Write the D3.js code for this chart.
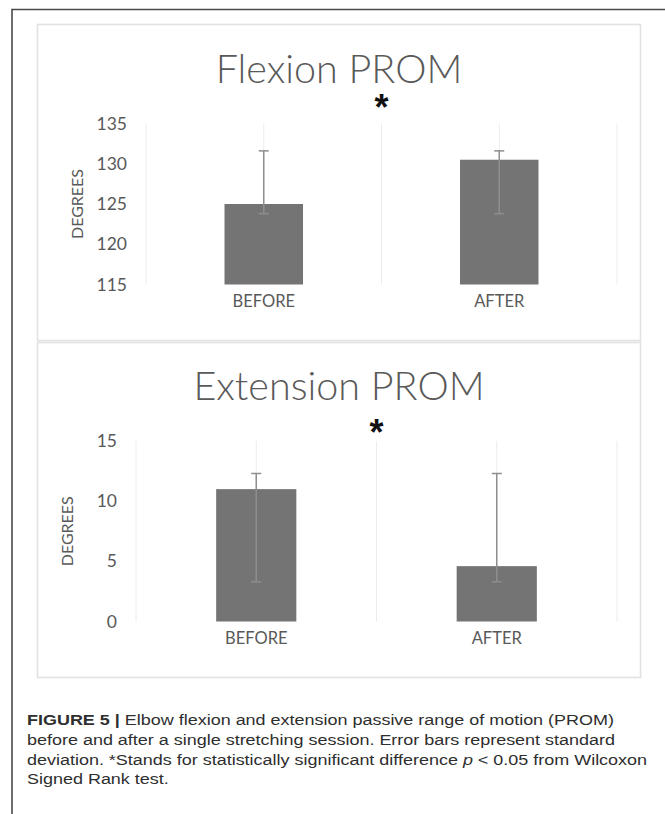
<!DOCTYPE html>
<html>
<head>
<meta charset="utf-8">
<script src="https://cdn.jsdelivr.net/npm/d3@7/dist/d3.min.js"></script>
<style>
  html, body { margin: 0; padding: 0; background: #ffffff; }
  svg { display: block; }
</style>
</head>
<body>
<svg id="fig" width="665" height="814"></svg>
<script>
// ---- data ----
const categories = ["BEFORE", "AFTER"];

const flexionMeans = [125.0, 130.5];
const flexionErrPlus = [6.6, 1.1];
const flexionErrMinus = [1.2, 6.7];
const flexionTicks = [115, 120, 125, 130, 135];

const extensionMeans = [11.0, 4.6];
const extensionErrPlus = [1.3, 7.7];
const extensionErrMinus = [7.7, 1.3];
const extensionTicks = [0, 5, 10, 15];

const panelTitles = ["Flexion PROM", "Extension PROM"];
const axisTitle = "DEGREES";
const significanceMark = "*";

// ---- drawing ----
const svg = d3.select("#fig");
const textGrey = "#595959";
const barFill = "#747474";
const errColor = "#8e8e8e";
const gridColor = "#ececec";
const chartFont = "Lato, 'Open Sans', sans-serif";

// outer figure frame (top and left rules)
svg.append("path")
  .attr("d", "M12,814 L12,9.5 L665,9.5")
  .attr("fill", "none")
  .attr("stroke", "#4a4a4a")
  .attr("stroke-width", 1.6);

// chart panel boxes
svg.append("rect").attr("x", 37.5).attr("y", 24.5).attr("width", 603).attr("height", 316)
  .attr("fill", "#fff").attr("stroke", "#e2e2e2").attr("stroke-width", 1.6);
svg.append("rect").attr("x", 37.5).attr("y", 342.5).attr("width", 603).attr("height", 335)
  .attr("fill", "#fff").attr("stroke", "#e2e2e2").attr("stroke-width", 1.6);

function drawPanel(cfg) {
  const g = svg.append("g");

  const x = d3.scaleBand()
    .domain(categories)
    .range([cfg.left, cfg.right])
    .paddingInner(2 / 3)
    .paddingOuter(1 / 3);
  const step = x.step();

  const y = d3.scaleLinear()
    .domain(cfg.domain)
    .range([cfg.bottom, cfg.top]);

  // vertical gridlines at category edges and centres
  const gridXs = [];
  categories.forEach((c, i) => {
    const start = cfg.left + i * step;
    gridXs.push(start, start + step / 2);
  });
  gridXs.push(cfg.right);
  g.selectAll("line.grid").data(gridXs).enter().append("line")
    .attr("x1", d => d).attr("x2", d => d)
    .attr("y1", y(cfg.domain[1])).attr("y2", y(cfg.domain[0]))
    .attr("stroke", gridColor).attr("stroke-width", 1);

  // y axis tick labels
  const yAxis = d3.axisLeft(y).tickValues(cfg.ticks).tickSize(0).tickPadding(19);
  const ya = g.append("g").attr("transform", `translate(${cfg.left},0)`).call(yAxis);
  ya.select(".domain").remove();
  ya.selectAll("text")
    .attr("font-family", chartFont).attr("font-size", 17.5).attr("fill", textGrey);

  // x axis category labels
  const xAxis = d3.axisBottom(x).tickSize(0).tickPadding(11);
  const xa = g.append("g").attr("transform", `translate(0,${cfg.bottom})`).call(xAxis);
  xa.select(".domain").remove();
  xa.selectAll("text")
    .attr("font-family", chartFont).attr("font-size", 16.5).attr("fill", textGrey);

  // bars
  g.selectAll("rect.bar").data(cfg.means).enter().append("rect")
    .attr("x", (d, i) => x(categories[i]))
    .attr("width", x.bandwidth())
    .attr("y", d => y(d))
    .attr("height", d => y(cfg.domain[0]) - y(d))
    .attr("fill", barFill);

  // error bars
  const capHalf = 5;
  cfg.means.forEach((m, i) => {
    const cx = x(categories[i]) + x.bandwidth() / 2;
    const hi = y(m + cfg.errPlus[i]);
    const lo = y(m - cfg.errMinus[i]);
    g.append("line").attr("x1", cx).attr("x2", cx).attr("y1", hi).attr("y2", lo)
      .attr("stroke", errColor).attr("stroke-width", 1.5);
    [hi, lo].forEach(v => {
      g.append("line").attr("x1", cx - capHalf).attr("x2", cx + capHalf)
        .attr("y1", v).attr("y2", v)
        .attr("stroke", errColor).attr("stroke-width", 1.5);
    });
  });

  // axis title
  const midY = (cfg.top + cfg.bottom) / 2;
  g.append("text")
    .attr("transform", `translate(${cfg.left - 63},${midY}) rotate(-90)`)
    .attr("text-anchor", "middle")
    .attr("font-family", chartFont).attr("font-size", 16).attr("fill", textGrey)
    .text(axisTitle);

  // chart title
  g.append("text")
    .attr("x", 339).attr("y", cfg.titleY)
    .attr("text-anchor", "middle")
    .attr("font-family", chartFont).attr("font-weight", 300)
    .attr("font-size", 39.5).attr("fill", textGrey)
    .text(cfg.title);

  // significance marker above the split between groups
  g.append("text")
    .attr("x", cfg.left + step).attr("y", cfg.starY)
    .attr("text-anchor", "middle")
    .attr("font-family", "'Liberation Sans', Arial, sans-serif").attr("font-weight", 700)
    .attr("font-size", 36).attr("fill", "#111")
    .text(significanceMark);
}

drawPanel({
  title: panelTitles[0], titleY: 83, starY: 120,
  left: 146, right: 617, top: 123.5, bottom: 284.5,
  domain: [115, 135], ticks: flexionTicks,
  means: flexionMeans, errPlus: flexionErrPlus, errMinus: flexionErrMinus
});

drawPanel({
  title: panelTitles[1], titleY: 400, starY: 445,
  left: 136, right: 617, top: 441, bottom: 621.5,
  domain: [0, 15], ticks: extensionTicks,
  means: extensionMeans, errPlus: extensionErrPlus, errMinus: extensionErrMinus
});

// caption
const captionLines = [
  [{ t: "FIGURE 5 | ", b: true }, { t: "Elbow flexion and extension passive range of motion (PROM)" }],
  [{ t: "before and after a single stretching session. Error bars represent standard" }],
  [{ t: "deviation. *Stands for statistically significant difference " }, { t: "p", i: true }, { t: " < 0.05 from Wilcoxon" }],
  [{ t: "Signed Rank test." }]
];
const captionBaselines = [725, 745, 765, 784];
const cap = svg.append("g")
  .attr("transform", "translate(27,0) scale(1.16,1)")
  .attr("font-family", "'Liberation Sans', Arial, Helvetica, sans-serif")
  .attr("font-size", 15.5).attr("fill", "#2e2e2e");
captionLines.forEach((parts, li) => {
  const t = cap.append("text").attr("x", 0).attr("y", captionBaselines[li]);
  parts.forEach(p => {
    t.append("tspan")
      .attr("font-weight", p.b ? 700 : 400)
      .attr("font-style", p.i ? "italic" : "normal")
      .text(p.t);
  });
});
</script>
</body>
</html>
